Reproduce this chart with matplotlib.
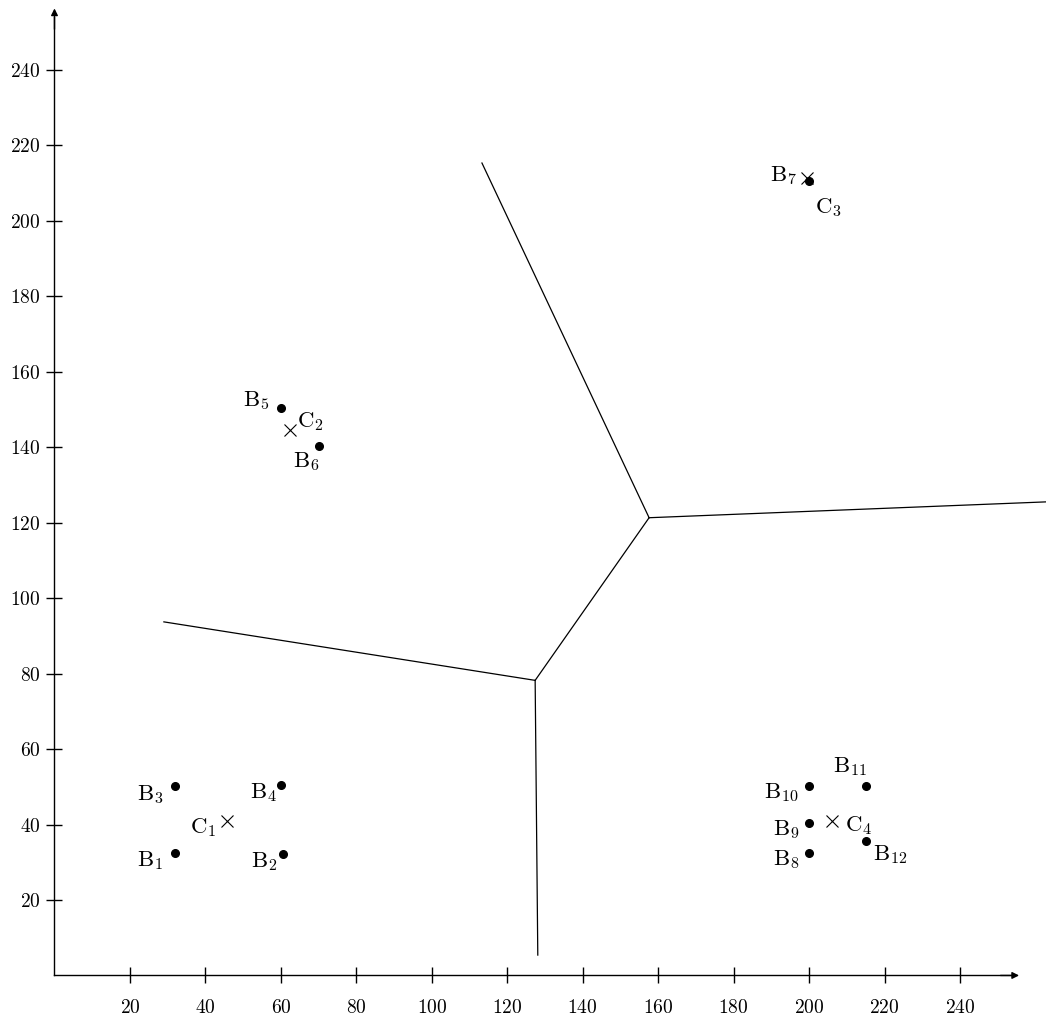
import matplotlib
matplotlib.use("Agg")
import matplotlib.pyplot as plt

plt.rcParams['font.family'] = ['cmr10']
plt.rcParams['mathtext.fontset'] = 'cm'
plt.rcParams['axes.formatter.use_mathtext'] = True

# points B1..B12
b_names = ["B$_{%d}$" % i for i in range(1, 13)]
b_x = [32, 60.6, 32, 60, 60, 70, 200, 200, 200, 200, 215, 215]
b_y = [32.4, 32.2, 50.2, 50.5, 150.3, 140.3, 210.5, 32.4, 40.4, 50.3, 50.3, 35.7]

# centres C1..C4
c_names = ["C$_{%d}$" % i for i in range(1, 5)]
c_x = [45.6, 62.4, 199.4, 206.0]
c_y = [40.8, 144.6, 211.2, 40.8]

# voronoi boundaries (two vertices + outer ends)
v1 = (127.4, 78.2)
v2 = (157.6, 121.3)
edges = [
    [(29.0, 93.7), v1],
    [v1, (128.1, 5.4)],
    [v1, v2],
    [v2, (113.3, 215.3)],
    [v2, (262.8, 125.5)],
]

ticks = list(range(20, 241, 20))

# label offsets in pixels: (dx, dy, ha)
b_off = [(-12, -13, 'right'), (-6, -13, 'right'), (-12, -14, 'right'), (-4, -13, 'right'),
         (-11, 2, 'right'), (1, -21, 'right'), (-12, 0, 'right'), (-10, -12, 'right'),
         (-10, -12, 'right'), (-10, -12, 'right'), (-16, 14, 'center'), (7, -19, 'left')]
c_off = [(-10, -12, 'right'), (7, 3, 'left'), (8, -35, 'left'), (13, -10, 'left')]

fig = plt.figure(figsize=(10.46, 10.21), dpi=100)
ax = fig.add_axes([0, 0, 1, 1])
ax.set_xlim(-14.44, 262.8)
ax.set_ylim(-12.07, 258.5)

for e in edges:
    ax.plot([e[0][0], e[1][0]], [e[0][1], e[1][1]], color='black', lw=0.9)

ax.plot(b_x, b_y, 'o', color='black', markersize=5.5, zorder=3)
ax.plot(c_x, c_y, 'x', color='black', markersize=8.5, mew=0.8, zorder=3)

for name, x, y, (dx, dy, ha) in zip(b_names, b_x, b_y, b_off):
    ax.annotate(name, (x, y), xytext=(dx, dy), textcoords='offset pixels',
                ha=ha, va='baseline', fontsize=16.5)
for name, x, y, (dx, dy, ha) in zip(c_names, c_x, c_y, c_off):
    ax.annotate(name, (x, y), xytext=(dx, dy), textcoords='offset pixels',
                ha=ha, va='baseline', fontsize=16.5)

# axes through origin with arrows
for s in ['top', 'right']:
    ax.spines[s].set_visible(False)
ax.spines['left'].set_position(('data', 0))
ax.spines['bottom'].set_position(('data', 0))
ax.spines['left'].set_bounds(0, 254)
ax.spines['bottom'].set_bounds(0, 254)
ax.spines['left'].set_linewidth(1.0)
ax.spines['bottom'].set_linewidth(1.0)
ax.annotate('', xy=(256.4, 0), xytext=(250, 0),
            arrowprops=dict(arrowstyle='-|>', color='black', lw=1.0, mutation_scale=10))
ax.annotate('', xy=(0, 257), xytext=(0, 250),
            arrowprops=dict(arrowstyle='-|>', color='black', lw=1.0, mutation_scale=10))

ax.set_xticks(ticks)
ax.set_yticks(ticks)
ax.tick_params(direction='inout', length=12, width=1.0, labelsize=14)
ax.tick_params(axis='x', pad=11)
ax.tick_params(axis='y', pad=4)

fig.savefig("out.png", dpi=100)
